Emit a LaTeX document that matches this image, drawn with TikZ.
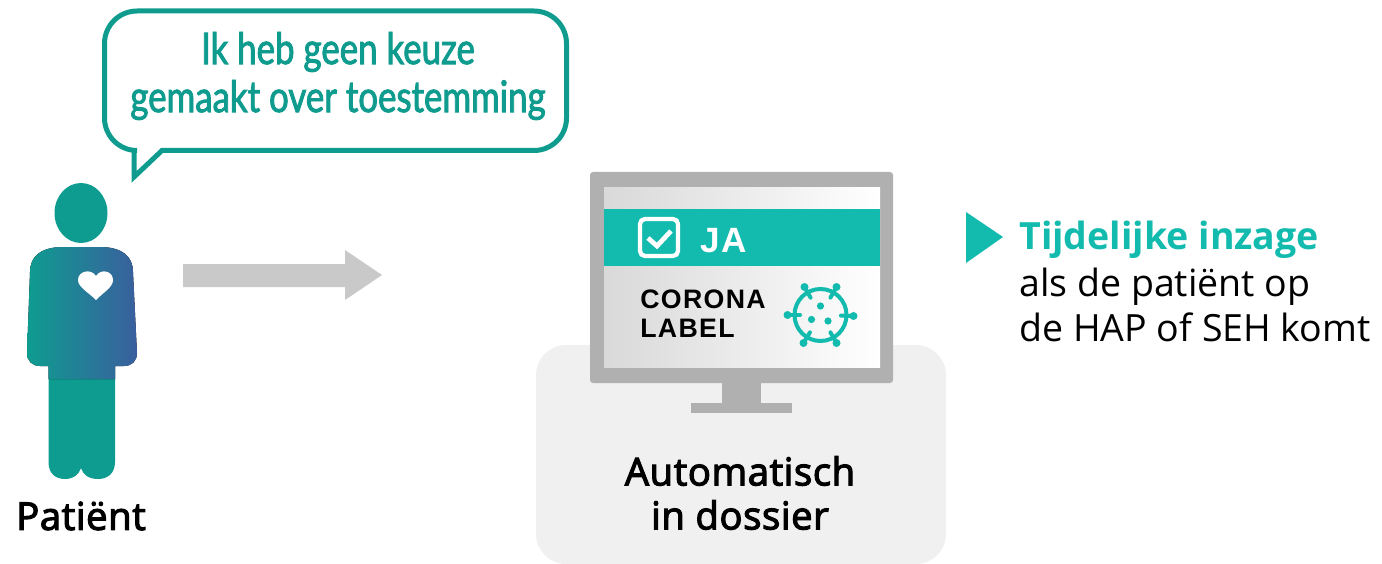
\documentclass[tikz,border=0pt]{standalone}
\usepackage{fontspec}
\usepackage{tikz}
\usetikzlibrary{positioning}
\setmainfont{Open Sans}
\newfontfamily\medfont[FakeBold=3,LetterSpace=1.5]{Open Sans}
\newfontfamily\screenfont[LetterSpace=5]{Liberation Sans}
\newfontfamily\handfont[FakeStretch=0.8,FakeBold=2]{Lato}
\definecolor{bubbleteal}{HTML}{0F9B8E}
\definecolor{bodyteal}{HTML}{0E9C90}
\definecolor{bodyblue}{HTML}{3A5F9E}
\definecolor{bandteal}{HTML}{12BBAE}
\definecolor{arrowgray}{HTML}{C9C9C9}
\definecolor{monitorgray}{HTML}{B0B0B0}
\definecolor{panelgray}{HTML}{F0F0F0}
\tikzset{
  hand/.style={text=bubbleteal,font=\handfont\fontsize{24.8}{29}\selectfont},
  caption/.style={text=black,font=\medfont\fontsize{21.8}{25}\selectfont},
  info/.style={anchor=base west,inner sep=0pt,text=black,font=\fontsize{21.35}{25}\selectfont},
  screentext/.style={anchor=base west,inner sep=0pt,font=\screenfont\bfseries\fontsize{15.2}{18}\selectfont},
  spike/.style={draw=bandteal,line width=0.08cm,line cap=round}
}
\begin{document}
\begin{tikzpicture}[x=0.02cm,y=-0.02cm]
\useasboundingbox (0,0) rectangle (1382,564);
% speech bubble
\draw[draw=bubbleteal,line width=0.1cm,line join=miter,rounded corners=0.65cm]
(335,11) -- (566.5,11) -- (566.5,150.5) [sharp corners] -- (162,150.5)
-- (134,177) -- (134,150.5) [rounded corners=0.65cm] -- (104.5,150.5) -- (104.5,11) -- cycle;
\node[hand] (line one) at (338,52) {Ik heb geen keuze};
\node[hand] (line two) at (338,100) {gemaakt over toestemming};
% patient
\fill[bodyteal] (81,213) ellipse (26.5 and 30);
\fill[bodyteal] (48.5,360) -- (48.5,462) .. controls (48.5,474) and (56,479) .. (65,479)
.. controls (73,479) and (79,475) .. (81,468) .. controls (83,475) and (89,479) .. (98,479)
.. controls (107,479) and (115,474) .. (115,462) -- (115,360) -- cycle;
\fill[left color=bodyteal,middle color=bodyteal,right color=bodyblue]
(60,247) -- (103,247) .. controls (122,248) and (133,256) .. (133,272)
-- (137,353) .. controls (137,361) and (132,366) .. (124,366) -- (115,366) -- (115,379) -- (48.5,379)
-- (48.5,366) -- (40,366) .. controls (32,366) and (27,361) .. (27,353)
-- (30,272) .. controls (30,256) and (41,248) .. (60,247) -- cycle;
\fill[white] (96,300) .. controls (88,292) and (78,287) .. (78,280)
.. controls (78,271) and (91,268) .. (96,276)
.. controls (101,268) and (113,271) .. (113,280)
.. controls (113,287) and (104,292) .. (96,300) -- cycle;
\node[caption] (patient) at (81,516) {Patiënt};
% arrow
\fill[arrowgray] (183,264) -- (345,264) -- (345,250) -- (382,275) -- (345,300) -- (345,287) -- (183,287) -- cycle;
% monitor
\fill[panelgray,rounded corners=0.6cm] (536,345) rectangle (946,564);
\fill[monitorgray] (722,380) rectangle (761,404);
\fill[monitorgray] (691,403) rectangle (792,413);
\fill[monitorgray,rounded corners=0.06cm] (590,172) rectangle (893,383);
\shade[left color=black!15,middle color=black!6,right color=white] (604,188) rectangle (880,367);
\fill[bandteal] (604,209) rectangle (880,266);
\draw[white,line width=0.085cm,rounded corners=0.1cm] (640,219) rectangle (678,256);
\draw[white,line width=0.095cm] (648,238) -- (657,246) -- (671,231);
\node[screentext,text=white,font=\screenfont\bfseries\fontsize{20}{24}\selectfont] (ja) at (700,253) {JA};
\node[screentext] (corona) at (640,308.5) {CORONA};
\node[screentext] (label) at (640,337) {LABEL};
% virus
\draw[spike] (820.5,315) circle (26);
\foreach \dx/\dy in {-16/-28,16/-28,-33/0,33/1,-17/28,16/28} {
  \draw[spike] ({820.5+0.62*\dx},{315+0.62*\dy}) -- ({820.5+\dx},{315+\dy});
  \fill[bandteal] ({820.5+\dx},{315+\dy}) circle (4);
}
\foreach \dx/\dy in {0/-9,-9/4.5,7.5/6}
  \fill[bandteal] ({820.5+\dx},{315+\dy}) circle (3.6);
\node[caption] (auto one) at (740,471) {Automatisch};
\node[caption] (auto two) at (740,515) {in dossier};
% access text
\fill[bandteal] (966,212) -- (1003,237) -- (966,263) -- cycle;
\node[info,text=bandteal,font=\bfseries\fontsize{21.35}{25}\selectfont] (access) at (1019,250) {Tijdelijke inzage};
\node[info] (access two) at (1019,296) {als de patiënt op};
\node[info] (access three) at (1019,341) {de HAP of SEH komt};
\end{tikzpicture}
\end{document}
